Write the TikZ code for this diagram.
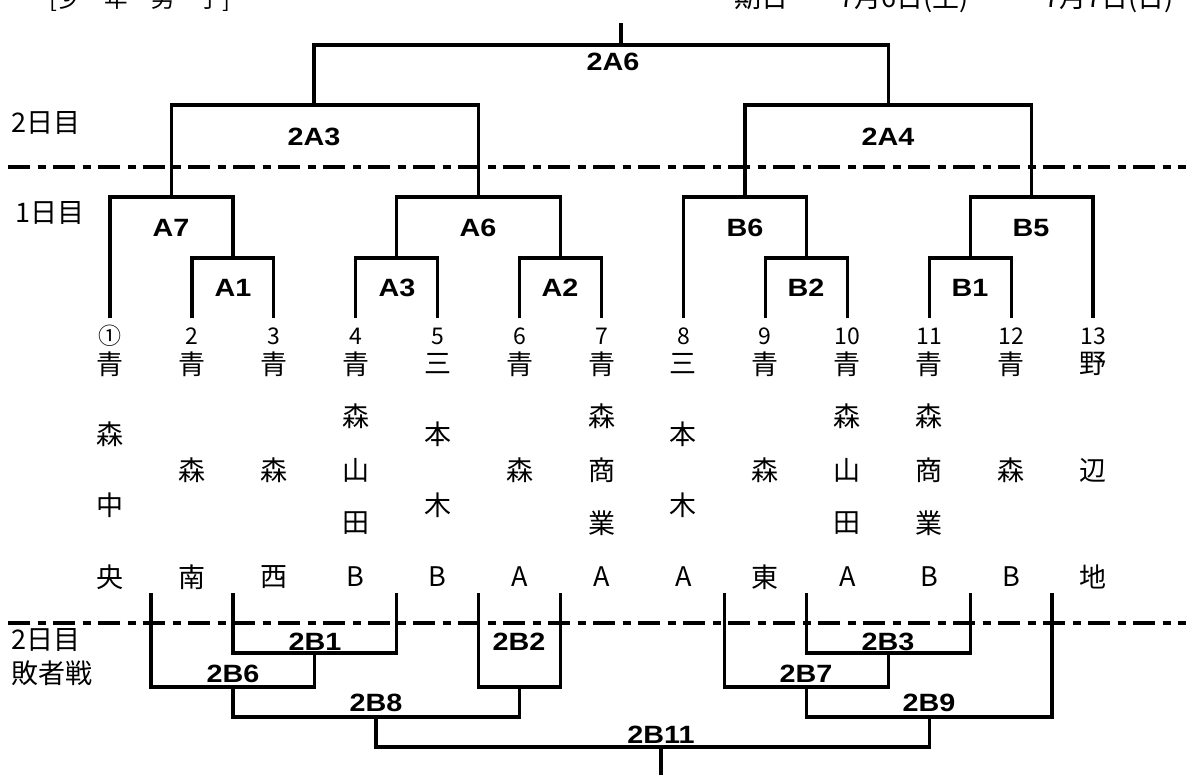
\documentclass[tikz,border=0pt]{standalone}
\usepackage{fontspec}
\setmainfont{Noto Sans CJK JP}
\newfontfamily\matchfont[FakeStretch=1.15]{Liberation Sans}

\begin{document}
\begin{tikzpicture}[x=1pt, y=-1pt, line width=3.2pt,
    match/.style={font=\matchfont\bfseries\fontsize{25}{25}\selectfont, inner sep=0pt},
    team/.style={font=\fontsize{27}{27}\selectfont, inner sep=0pt},
    num/.style={font=\fontsize{23}{23}\selectfont, inner sep=0pt},
    day/.style={font=\fontsize{27}{27}\selectfont, inner sep=0pt, anchor=west},
    head/.style={font=\fontsize{27}{27}\selectfont, inner sep=0pt},
    dayline/.style={dash pattern=on 22pt off 7.5pt on 8pt off 7.5pt}]
   \useasboundingbox (0,0) rectangle (1186,774);

   \node[head, font=\fontsize{23.5}{23.5}\selectfont, anchor=base] (title) at (140,7) {[少　年　男　子]};
   \node[head, anchor=base] (kijitsu) at (761,7) {期日};
   \node[head, anchor=base west] (date1) at (838,7) {7月6日(土)};
   \node[head, anchor=base west] (date2) at (1043,7) {7月7日(日)};

   \draw[dayline] (8,167) -- (1186,167);
   \draw[dayline] (8,623) -- (1186,623);
   \node[day] (day2) at (10,123) {2日目};
   \node[day] (day1) at (14,213) {1日目};
   \node[day] (day2b) at (10,640) {2日目};
   \node[day] (haisha) at (10,673) {敗者戦};

   % teams
   \foreach \n/\a/\z [count=\i] in {①/青/央, 2/青/南, 3/青/西, 4/青/B, 5/三/B, 6/青/A, 7/青/A,
        8/三/A, 9/青/東, 10/青/A, 11/青/B, 12/青/B, 13/野/地} {
     \coordinate (t\i) at ({110+81.92*(\i-1)},318);
     \node[num] (n\i) at ({110+81.92*(\i-1)},336) {\n};
     \node[team] (a\i) at ({110+81.92*(\i-1)},364) {\a};
     \node[team] (z\i) at ({110+81.92*(\i-1)},577) {\z};
   }
   \foreach \i/\c in {2/森,3/森,4/山,6/森,7/商,9/森,10/山,11/商,12/森,13/辺}
     \node[team] (c\i) at ({110+81.92*(\i-1)},470) {\c};
   \foreach \i/\b/\d in {4/森/田,7/森/業,10/森/田,11/森/業} {
     \node[team] (b\i) at ({110+81.92*(\i-1)},416.5) {\b};
     \node[team] (d\i) at ({110+81.92*(\i-1)},523.5) {\d};
   }
   \foreach \i/\b/\d in {1/森/中,5/本/木,8/本/木} {
     \node[team] (b\i) at ({110+81.92*(\i-1)},434.3) {\b};
     \node[team] (d\i) at ({110+81.92*(\i-1)},505.7) {\d};
   }

   % 1日目, 2日目
   \coordinate (rA1) at (232.9,258);
   \coordinate (rA3) at (396.7,258);
   \coordinate (rA2) at (560.5,258);
   \coordinate (rB2) at (806.3,258);
   \coordinate (rB1) at (970.1,258);
   \coordinate (rA7) at (171.5,197);
   \coordinate (rA6) at (478.6,197);
   \coordinate (rB6) at (744.9,197);
   \coordinate (rB5) at (1031.6,197);
   \coordinate (r2A3) at (314,105);
   \coordinate (r2A4) at (888.2,105);
   \coordinate (r2A6) at (621,45);
   \coordinate (top) at (621,23);

   \draw (t2) |- (rA1) -| (t3);
   \draw (t1) |- (rA7) -| (rA1);
   \draw (t4) |- (rA3) -| (t5);
   \draw (t6) |- (rA2) -| (t7);
   \draw (rA3) |- (rA6) -| (rA2);
   \draw (t9) |- (rB2) -| (t10);
   \draw (t8) |- (rB6) -| (rB2);
   \draw (t11) |- (rB1) -| (t12);
   \draw (rB1) |- (rB5) -| (t13);
   \draw (rA7) |- (r2A3) -| (rA6);
   \draw (rB6) |- (r2A4) -| (rB5);
   \draw (r2A3) |- (r2A6) -| (r2A4);
   \draw (r2A6) -- (top);

   \node[match] (lA1) at (233,288) {A1};
   \node[match] (lA3) at (397,288) {A3};
   \node[match] (lA2) at (560,288) {A2};
   \node[match] (lB2) at (806,288) {B2};
   \node[match] (lB1) at (970,288) {B1};
   \node[match] (lA7) at (171,228) {A7};
   \node[match] (lA6) at (478,228) {A6};
   \node[match] (lB6) at (745,228) {B6};
   \node[match] (lB5) at (1031,228) {B5};
   \node[match] (l2A3) at (314,137) {2A3};
   \node[match] (l2A4) at (888,137) {2A4};
   \node[match] (l2A6) at (613,62) {2A6};

   % 敗者戦
   \coordinate (s12) at (151,593);
   \coordinate (s23) at (232.9,593);
   \coordinate (s45) at (396.7,593);
   \coordinate (s56) at (478.6,593);
   \coordinate (s67) at (560.5,593);
   \coordinate (s89) at (724.4,593);
   \coordinate (s910) at (806.3,593);
   \coordinate (s1112) at (970.1,593);
   \coordinate (s1213) at (1052,593);
   \coordinate (r2B1) at (314.8,653);
   \coordinate (r2B3) at (888.2,653);
   \coordinate (r2B6) at (232.9,687);
   \coordinate (r2B2) at (519.6,687);
   \coordinate (r2B7) at (806.3,687);
   \coordinate (r2B8) at (376,717);
   \coordinate (r2B9) at (929.2,717);
   \coordinate (r2B11) at (661,747);
   \coordinate (bot) at (661,780);

   \draw (s23) |- (r2B1) -| (s45);
   \draw (s12) |- (r2B6) -| (r2B1);
   \draw (s56) |- (r2B2) -| (s67);
   \draw (r2B6) |- (r2B8) -| (r2B2);
   \draw (s910) |- (r2B3) -| (s1112);
   \draw (s89) |- (r2B7) -| (r2B3);
   \draw (r2B7) |- (r2B9) -| (s1213);
   \draw (r2B8) |- (r2B11) -| (r2B9);
   \draw (r2B11) -- (bot);

   \node[match] (l2B1) at (315,642) {2B1};
   \node[match] (l2B2) at (519,642) {2B2};
   \node[match] (l2B3) at (888,642) {2B3};
   \node[match] (l2B6) at (233,674) {2B6};
   \node[match] (l2B7) at (806,674) {2B7};
   \node[match] (l2B8) at (376,703) {2B8};
   \node[match] (l2B9) at (929,703) {2B9};
   \node[match] (l2B11) at (661,735) {2B11};
\end{tikzpicture}
\end{document}
